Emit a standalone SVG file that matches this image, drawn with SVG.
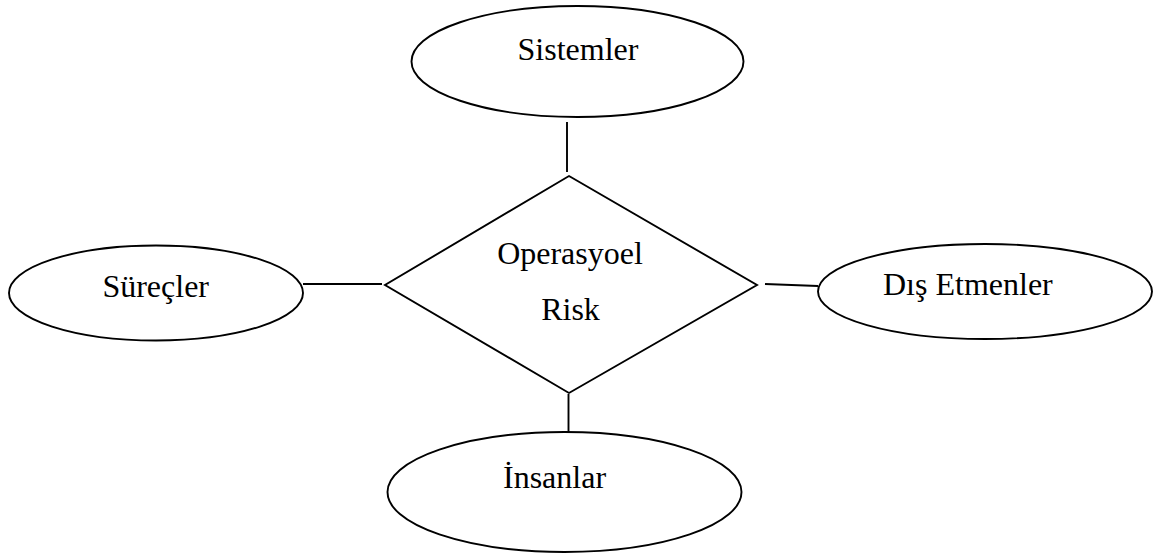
<svg xmlns="http://www.w3.org/2000/svg" width="1162" height="553" viewBox="0 0 1162 553">
<style>
.shape{fill:#fff;stroke:#000;stroke-width:1.9}
.conn line{stroke:#000;stroke-width:1.9}
text{font-family:"Liberation Serif","Times New Roman",serif;font-size:32px;fill:#000}
</style>
<rect width="1162" height="553" fill="#fff"/>
<g id="connectors" class="conn">
<line x1="567" y1="122" x2="567" y2="172"/>
<line x1="303" y1="284" x2="382" y2="284"/>
<line x1="765" y1="284" x2="818" y2="286"/>
<line x1="568.5" y1="394" x2="568.5" y2="432"/>
</g>
<g id="sistemler">
<ellipse class="shape" cx="577.5" cy="61.5" rx="166" ry="55.5"/>
<text x="578" y="60" text-anchor="middle">Sistemler</text>
</g>
<g id="operasyonel-risk">
<polygon class="shape" points="569,176 757,285 569,393 385,285"/>
<text x="570" y="264" text-anchor="middle">Operasyoel</text>
<text x="570.5" y="320" text-anchor="middle">Risk</text>
</g>
<g id="surecler">
<ellipse class="shape" cx="156" cy="293" rx="147" ry="47.5"/>
<text x="155.7" y="297" text-anchor="middle">Süreçler</text>
</g>
<g id="dis-etmenler">
<ellipse class="shape" cx="985" cy="291.5" rx="167" ry="47.5"/>
<text x="883" y="295">Dış Etmenler</text>
</g>
<g id="insanlar">
<ellipse class="shape" cx="564.5" cy="492" rx="177" ry="60"/>
<text x="503" y="488">İnsanlar</text>
</g>
</svg>
